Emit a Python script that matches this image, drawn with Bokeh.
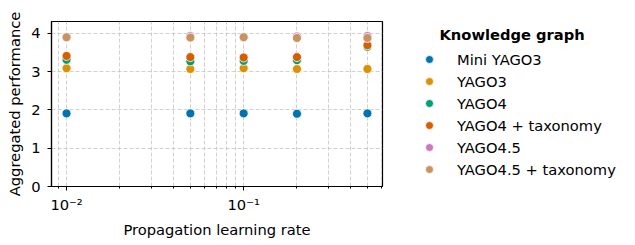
from bokeh.plotting import figure
from bokeh.models import (Range1d, Legend, LegendItem, CustomJSTickFormatter,
                          FixedTicker, ColumnDataSource)
from bokeh.embed import file_html
from bokeh.resources import INLINE

# ---- data ----
learning_rates = [0.01, 0.05, 0.1, 0.2, 0.5]
series_names = ["Mini YAGO3", "YAGO3", "YAGO4", "YAGO4 + taxonomy", "YAGO4.5", "YAGO4.5 + taxonomy"]
mini_yago3 = [1.91, 1.91, 1.91, 1.90, 1.91]
yago3 = [3.09, 3.07, 3.09, 3.07, 3.07]
yago4 = [3.31, 3.27, 3.28, 3.30, 3.65]
yago4_tax = [3.41, 3.38, 3.37, 3.38, 3.69]
yago45 = [3.90, 3.93, 3.90, 3.92, 3.93]
yago45_tax = [3.90, 3.89, 3.90, 3.88, 3.88]
series_values = [mini_yago3, yago3, yago4, yago4_tax, yago45, yago45_tax]
colors = ["#0173b2", "#de8f05", "#029e73", "#d55e00", "#cc78bc", "#ca9161"]
y_ticks = [0, 1, 2, 3, 4]
x_major_ticks = [0.01, 0.1]
x_minor_ticks = [0.009, 0.02, 0.03, 0.04, 0.05, 0.06, 0.07, 0.08, 0.09,
                 0.2, 0.3, 0.4, 0.5, 0.6]

FONT = "DejaVu Sans"
FS = "14.7px"

p = figure(frame_width=331, frame_height=165, x_axis_type="log",
           x_range=Range1d(10 ** -2.085, 10 ** -0.216), y_range=Range1d(0, 4.31),
           output_backend="svg", toolbar_location=None,
           min_border_left=51, min_border_right=248, min_border_top=21, min_border_bottom=56)
p.background_fill_color = "white"
p.border_fill_color = "white"
p.outline_line_color = "black"
p.outline_line_width = 1.2
p.outline_line_alpha = 1

renderers = []
for name, vals, c in zip(series_names, series_values, colors):
    src = ColumnDataSource(dict(x=learning_rates, y=vals))
    r = p.scatter("x", "y", source=src, size=9, fill_color=c, line_color="white", line_width=0.8)
    renderers.append((name, r))

# axes
for ax in (p.xaxis[0], p.yaxis[0]):
    ax.axis_line_color = "black"
    ax.axis_line_width = 1.2
    ax.major_tick_line_color = "black"
    ax.major_tick_out = 4
    ax.major_tick_in = 0
    ax.major_label_text_font = FONT
    ax.major_label_text_font_size = FS
    ax.major_label_text_color = "black"
    ax.axis_label_text_font = FONT
    ax.axis_label_text_font_size = FS
    ax.axis_label_text_font_style = "normal"
    ax.axis_label_text_color = "black"

p.xaxis.ticker = FixedTicker(ticks=x_major_ticks, minor_ticks=x_minor_ticks)
p.xaxis.minor_tick_line_color = "black"
p.xaxis.minor_tick_out = 2
p.xaxis.minor_tick_in = 0
p.xaxis.axis_label = "Propagation learning rate"
p.xaxis.axis_label_standoff = 5
p.xaxis.major_label_standoff = 5
p.xaxis.formatter = CustomJSTickFormatter(code="""
const e = Math.round(Math.log10(tick));
const sup = {'-':'\u207b','0':'\u2070','1':'\u00b9','2':'\u00b2','3':'\u00b3','4':'\u2074','5':'\u2075','6':'\u2076','7':'\u2077','8':'\u2078','9':'\u2079'};
return '10' + String(e).split('').map(ch => sup[ch]).join('');
""")

p.yaxis.ticker = FixedTicker(ticks=y_ticks)
p.yaxis.minor_tick_line_color = None
p.yaxis.axis_label = "Aggregated performance"
p.yaxis.axis_label_standoff = 5
p.yaxis.major_label_standoff = 7

# grid
for g in (p.xgrid[0], p.ygrid[0]):
    g.grid_line_color = "#c4c4c4"
    g.grid_line_dash = "4 2"
    g.grid_line_width = 0.8
p.xgrid.minor_grid_line_color = "#c4c4c4"
p.xgrid.minor_grid_line_dash = "4 2"
p.xgrid.minor_grid_line_width = 0.8

# legend
NB = "\u00a0"
legend = Legend(items=[LegendItem(label=n, renderers=[r]) for n, r in renderers],
                location=(37, 6), orientation="vertical",
                title=NB * 4 + "Knowledge graph",
                title_text_font=FONT, title_text_font_size=FS, title_text_font_style="bold",
                title_text_color="black", title_standoff=5,
                label_text_font=FONT, label_text_font_size=FS, label_text_color="black",
                label_standoff=18, glyph_width=20, glyph_height=22, label_height=22,
                spacing=0, padding=0, margin=0,
                border_line_color=None, background_fill_alpha=0)
p.add_layout(legend, "right")

open("out.html", "w").write(file_html(p, INLINE))
